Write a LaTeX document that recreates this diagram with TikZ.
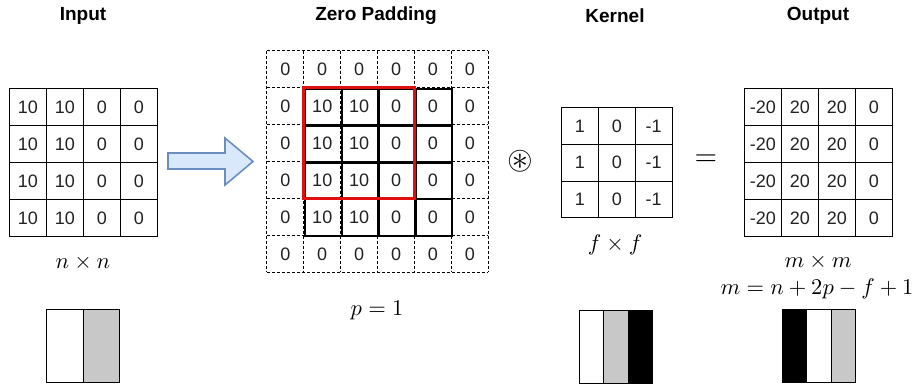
\documentclass[tikz,border=0pt]{standalone}
\usepackage{amssymb}
\usepackage{graphicx}
\usepackage[no-math]{fontspec}
\setmainfont{Liberation Sans}
\definecolor{barGray}{HTML}{C8C8C8}
\definecolor{gridRed}{HTML}{E01010}
\definecolor{arrFill}{HTML}{DAE8FC}
\definecolor{arrDraw}{HTML}{6C8EBF}
\definecolor{numCol}{HTML}{222222}
\tikzset{
  cellbox/.style={draw=black, line width=1pt, minimum size=36.9pt, inner sep=0pt, anchor=north west,
    font=\fontsize{18}{18}\selectfont, text=numCol},
  padcell/.style={minimum size=36.9pt, inner sep=0pt, anchor=north west,
    font=\fontsize{18}{18}\selectfont, text=numCol},
  innerbox/.style={draw=black, line width=2.2pt, minimum size=36.9pt, inner sep=0pt, anchor=north west},
  padline/.style={draw=black, line width=0.8pt, dash pattern=on 3pt off 2pt},
  titletext/.style={font=\bfseries\fontsize{19}{19}\selectfont},
  mathlabel/.style={font=\normalsize, scale=2.25},
  stripe/.style={draw=black, line width=1pt, minimum width=24.4pt, minimum height=73pt, inner sep=0pt, anchor=north west},
  halfstripe/.style={draw=black, line width=1pt, minimum width=36.5pt, minimum height=73pt, inner sep=0pt, anchor=north west},
}
\begin{document}
\begin{tikzpicture}[x=1pt,y=-1pt]
\useasboundingbox (0,0) rectangle (920,387);
\fill[white] (0,0) rectangle (920,387);

% titles
\node[titletext] (tIn) at (83,16) {Input};
\node[titletext] (tPad) at (376,16) {Zero Padding};
\node[titletext] (tKer) at (615,16) {Kernel};
\node[titletext] (tOut) at (818,16) {Output};

% input grid
\foreach \r in {0,...,3}{
  \foreach \c/\v in {0/10,1/10,2/0,3/0}{
    \node[cellbox] (in-\r-\c) at ({9+\c*37},{88+\r*37}) {\v};
  }
}
\node[mathlabel] (nlab) at (83,263) {$n\times n$};

% arrow
\fill[arrFill] (168,153) -- (225,153) -- (225,138) -- (253,161.5) -- (225,185) -- (225,169) -- (168,169) -- cycle;
\draw[arrDraw, line width=1.6pt, line join=miter] (168,153) -- (225,153) -- (225,138) -- (253,161.5) -- (225,185) -- (225,169) -- (168,169) -- cycle;

% padding grid
\foreach \r in {0,...,5}{
  \foreach \c in {0,...,5}{
    \pgfmathtruncatemacro{\inside}{(\r>0)&&(\r<5)&&(\c>0)&&(\c<3)}
    \ifnum\inside=1 \def\v{10}\else\def\v{0}\fi
    \node[padcell] (pad-\r-\c) at ({266.7+\c*36.9},{50.7+\r*36.9}) {\v};
  }
}
\foreach \i in {0,...,6}{
  \draw[padline] ({266.7+\i*36.9},50.7) -- ({266.7+\i*36.9},272.1);
  \draw[padline] (266.7,{50.7+\i*36.9}) -- (488.1,{50.7+\i*36.9});
}
\foreach \r in {1,...,4}{
  \foreach \c in {1,...,4}{
    \node[innerbox] (inb-\r-\c) at ({266.7+\c*36.9},{50.7+\r*36.9}) {};
  }
}
\draw[gridRed, line width=3pt] (pad-1-1.north west) rectangle (pad-3-3.south east);
\node[mathlabel] (plab) at (377,310) {$p=1$};

% convolution symbol
\node[scale=3.3] (conv) at (520,161) {$\circledast$};

% kernel
\foreach \r in {0,...,2}{
  \foreach \c/\v in {0/1,1/0,2/-1}{
    \node[cellbox] (k-\r-\c) at ({561+\c*36.8},{107+\r*36.8}) {\v};
  }
}
\node[mathlabel] (flab) at (615,245) {$f\times f$};

% equals
\node[font=\normalsize, scale=2.9] (eq) at (706,160) {$=$};

% output
\foreach \r in {0,...,3}{
  \foreach \c/\v in {0/-20,1/20,2/20,3/0}{
    \node[cellbox] (out-\r-\c) at ({744+\c*37},{88+\r*37}) {\v};
  }
}
\node[mathlabel] (mlab) at (818,262) {$m\times m$};
\node[mathlabel] (mform) at (817,289) {$m=n+2p-f+1$};

% bars
\node[halfstripe, fill=white] (bin-0) at (46,309) {};
\node[halfstripe, fill=barGray] (bin-1) at (82.5,309) {};

\node[stripe, fill=white] (bk-0) at (579,309.5) {};
\node[stripe, fill=barGray] (bk-1) at (603.4,309.5) {};
\node[stripe, fill=black] (bk-2) at (627.8,309.5) {};

\node[stripe, fill=black] (bo-0) at (782,309) {};
\node[stripe, fill=white] (bo-1) at (806.4,309) {};
\node[stripe, fill=barGray] (bo-2) at (830.8,309) {};
\end{tikzpicture}
\end{document}
